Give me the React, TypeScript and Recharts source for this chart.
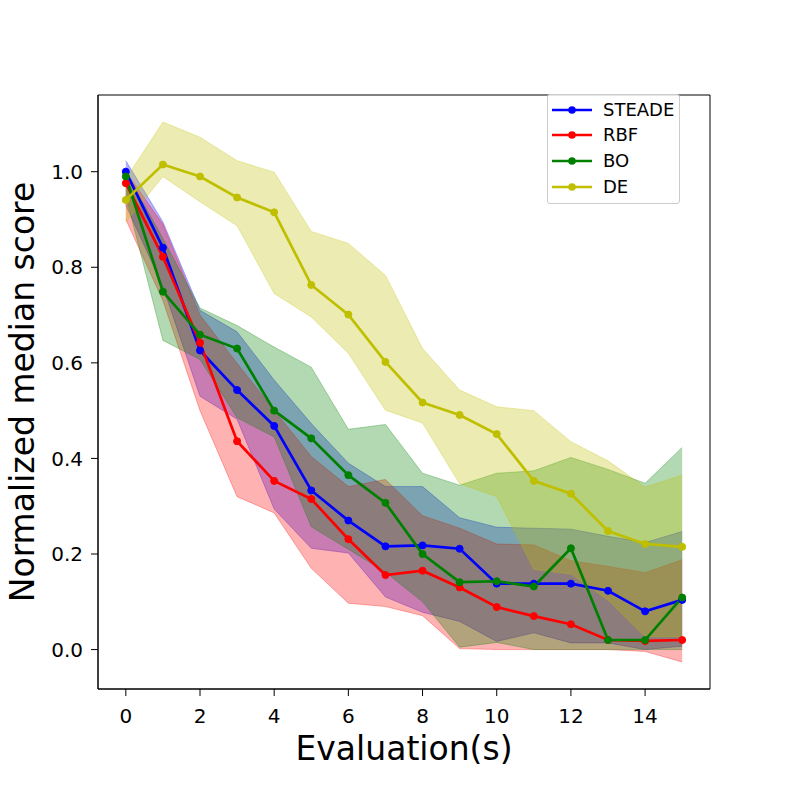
import {
  ComposedChart,
  Area,
  Line,
  XAxis,
  YAxis,
  ReferenceArea,
} from 'recharts';

const evals = [0, 1, 2, 3, 4, 5, 6, 7, 8, 9, 10, 11, 12, 13, 14, 15];
const xTicks = [0, 2, 4, 6, 8, 10, 12, 14];
const yTicks = [0, 0.2, 0.4, 0.6, 0.8, 1.0];

const steadeMean = [1.0, 0.841, 0.626, 0.543, 0.468, 0.333, 0.27, 0.216, 0.218, 0.211, 0.138, 0.138, 0.138, 0.123, 0.08, 0.104];
const steadeLow = [0.93, 0.76, 0.53, 0.482, 0.294, 0.212, 0.202, 0.11, 0.078, 0.059, 0.017, 0.035, 0.014, 0.014, 0.0, 0.007];
const steadeHigh = [1.023, 0.895, 0.71, 0.665, 0.564, 0.473, 0.39, 0.341, 0.341, 0.276, 0.256, 0.254, 0.252, 0.237, 0.224, 0.247];

const rbfMean = [0.976, 0.822, 0.642, 0.436, 0.353, 0.315, 0.231, 0.156, 0.165, 0.13, 0.089, 0.07, 0.053, 0.02, 0.018, 0.02];
const rbfLow = [0.9, 0.73, 0.5, 0.32, 0.286, 0.17, 0.097, 0.09, 0.071, 0.002, 0.0, 0.0, 0.0, 0.0, -0.004, -0.026];
const rbfHigh = [1.0, 0.89, 0.7, 0.599, 0.501, 0.404, 0.341, 0.356, 0.28, 0.254, 0.221, 0.219, 0.186, 0.174, 0.161, 0.188];

const boMean = [0.99, 0.749, 0.659, 0.63, 0.5, 0.442, 0.365, 0.307, 0.2, 0.141, 0.143, 0.132, 0.212, 0.02, 0.02, 0.109];
const boLow = [0.95, 0.647, 0.607, 0.485, 0.445, 0.257, 0.21, 0.162, 0.1, 0.005, 0.015, 0.0, 0.0, 0.0, 0.0, 0.0];
const boHigh = [1.0, 0.86, 0.715, 0.678, 0.633, 0.591, 0.461, 0.471, 0.369, 0.344, 0.369, 0.374, 0.402, 0.377, 0.348, 0.423];

const deMean = [0.941, 1.015, 0.99, 0.946, 0.915, 0.763, 0.701, 0.602, 0.517, 0.491, 0.451, 0.353, 0.326, 0.248, 0.221, 0.215];
const deLow = [0.894, 0.99, 0.937, 0.887, 0.745, 0.696, 0.62, 0.501, 0.474, 0.347, 0.32, 0.168, 0.158, 0.104, 0.027, 0.027];
const deHigh = [0.985, 1.104, 1.072, 1.023, 0.999, 0.875, 0.85, 0.783, 0.63, 0.543, 0.508, 0.5, 0.435, 0.395, 0.34, 0.365];

const xDomain = [-0.75, 15.75];
const yDomain = [-0.0825, 1.1605];

const series = [
  { key: 'steade', name: 'STEADE', color: '#0000ff' },
  { key: 'rbf', name: 'RBF', color: '#ff0000' },
  { key: 'bo', name: 'BO', color: '#008000' },
  { key: 'de', name: 'DE', color: '#bfbf00' },
];

const data = evals.map((e, i) => ({
  e,
  steade: steadeMean[i],
  steadeBand: [steadeLow[i], steadeHigh[i]],
  rbf: rbfMean[i],
  rbfBand: [rbfLow[i], rbfHigh[i]],
  bo: boMean[i],
  boBand: [boLow[i], boHigh[i]],
  de: deMean[i],
  deBand: [deLow[i], deHigh[i]],
}));

function LegendBox() {
  return (
    <div
      style={{
        position: 'absolute',
        left: 547,
        top: 94,
        width: 131,
        height: 106,
        border: '1px solid #cccccc',
        borderRadius: 3,
        background: 'rgba(255,255,255,0.8)',
        paddingTop: 2,
        boxSizing: 'content-box',
      }}
    >
      {series.map((s) => (
        <div
          key={s.key}
          style={{ display: 'flex', alignItems: 'center', height: 25.67 }}
        >
          <svg width={40} height={12} style={{ marginLeft: 4, display: 'block' }}>
            <line x1={0} y1={6} x2={40} y2={6} stroke={s.color} strokeWidth={2.7} />
            <circle cx={20} cy={6} r={3.8} fill={s.color} />
          </svg>
          <span style={{ marginLeft: 11, fontSize: 18, color: '#000', lineHeight: 1 }}>
            {s.name}
          </span>
        </div>
      ))}
    </div>
  );
}

export default function App() {
  return (
    <div
      style={{
        position: 'absolute',
        left: 0,
        top: 0,
        width: 789,
        height: 789,
        background: '#fff',
        fontFamily: '"DejaVu Sans", sans-serif',
      }}
    >
      <ComposedChart
        width={789}
        height={789}
        data={data}
        margin={{ top: 95, right: 79, left: 0, bottom: 0 }}
      >
        <XAxis
          dataKey="e"
          type="number"
          domain={xDomain}
          ticks={xTicks}
          allowDataOverflow
          height={100}
          tickSize={7}
          tickMargin={13}
          axisLine={{ stroke: '#000' }}
          tickLine={{ stroke: '#000' }}
          tick={{ fontSize: 20, fill: '#000' }}
          label={{
            content: ({ viewBox }: any) => (
              <text
                x={viewBox.x + viewBox.width / 2}
                y={viewBox.y + 70.5}
                textAnchor="middle"
                fontSize={33}
                fill="#000"
              >
                Evaluation(s)
              </text>
            ),
          }}
        />
        <YAxis
          type="number"
          domain={yDomain}
          ticks={yTicks}
          allowDataOverflow
          width={98}
          tickSize={7}
          tickMargin={8}
          axisLine={{ stroke: '#000' }}
          tickLine={{ stroke: '#000' }}
          tick={{ fontSize: 20, fill: '#000' }}
          tickFormatter={(v: number) => v.toFixed(1)}
          label={{
            content: ({ viewBox }: any) => {
              const cx = viewBox.x + 34;
              const cy = viewBox.y + viewBox.height / 2;
              return (
                <text
                  x={cx}
                  y={cy}
                  transform={`rotate(-90 ${cx} ${cy})`}
                  textAnchor="middle"
                  fontSize={33}
                  fill="#000"
                >
                  Normalized median score
                </text>
              );
            },
          }}
        />
        {series.map((s) => (
          <Area
            key={s.key + 'Band'}
            type="linear"
            dataKey={s.key + 'Band'}
            fill={s.color}
            fillOpacity={0.3}
            stroke={s.color}
            strokeOpacity={0.3}
            strokeWidth={1}
            isAnimationActive={false}
            activeDot={false}
            dot={false}
          />
        ))}
        {series.map((s) => (
          <Line
            key={s.key}
            type="linear"
            dataKey={s.key}
            name={s.name}
            stroke={s.color}
            strokeWidth={2.7}
            dot={{ r: 3.5, fill: s.color, stroke: s.color, strokeWidth: 1 }}
            activeDot={false}
            isAnimationActive={false}
          />
        ))}
        <ReferenceArea
          x1={xDomain[0]}
          x2={xDomain[1]}
          y1={yDomain[0]}
          y2={yDomain[1]}
          fill="none"
          stroke="#000"
          strokeWidth={1}
          ifOverflow="extendDomain"
        />
      </ComposedChart>
      <LegendBox />
    </div>
  );
}
